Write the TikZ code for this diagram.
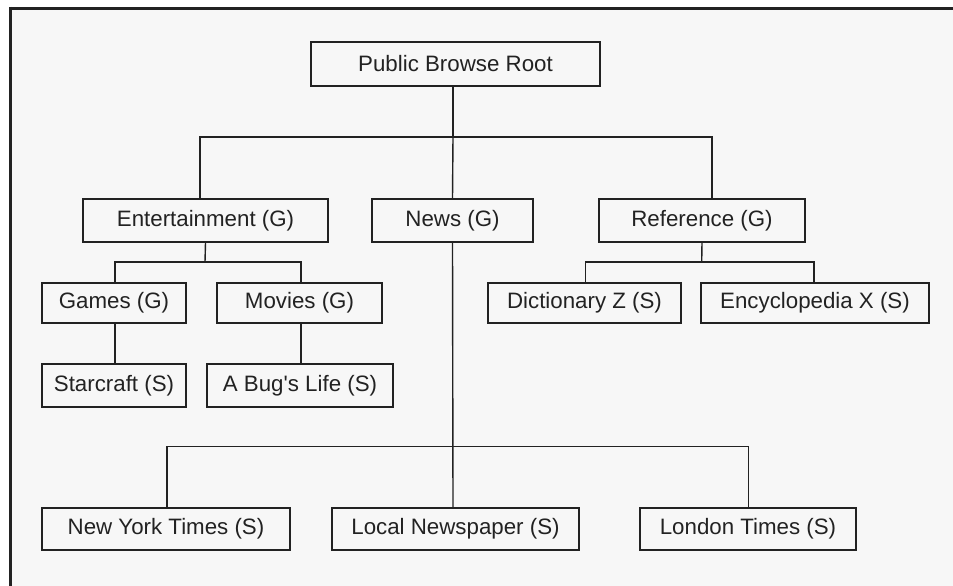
\documentclass[tikz,border=0pt]{standalone}
\usepackage{fontspec}
\setmainfont{Liberation Sans}[Ligatures=TeXOff]
\definecolor{bg}{HTML}{F7F7F7}
\definecolor{ink}{HTML}{222222}
\begin{document}
\begin{tikzpicture}[x=1pt,y=-1pt,
  box/.style={draw=ink,line width=1.4pt,fill=bg,inner sep=0pt,text=ink,font=\fontsize{22.3}{25}\selectfont},
  conn/.style={draw=ink,line width=1.4pt}]
\useasboundingbox (0,0) rectangle (953,586);
\fill[white] (0,0) rectangle (953,586);
\fill[bg] (9,7) rectangle (953,586);
\draw[ink,line width=2.6pt] (9,8.3) -- (953,8.3);
\draw[ink,line width=2.8pt] (10.5,7) -- (10.5,586);
% nodes
\node[box,minimum width=289,minimum height=44] (root) at (455.5,64) {Public Browse Root};
\node[box,minimum width=245,minimum height=43] (ent) at (205.5,220.5) {Entertainment (G)};
\node[box,minimum width=161,minimum height=43] (news) at (452.5,220.5) {News (G)};
\node[box,minimum width=206,minimum height=43] (ref) at (702,220.5) {Reference (G)};
\node[box,minimum width=144,minimum height=40] (games) at (114,303) {Games (G)};
\node[box,minimum width=165,minimum height=40] (movies) at (299.5,303) {Movies (G)};
\node[box,minimum width=144,minimum height=43] (star) at (114,385.5) {Starcraft (S)};
\node[box,minimum width=186,minimum height=43] (bug) at (300,385.5) {A Bug's Life (S)};
\node[box,minimum width=193,minimum height=40] (dict) at (584.5,303) {Dictionary Z (S)};
\node[box,minimum width=228,minimum height=40] (ency) at (815,303) {Encyclopedia X (S)};
\node[box,minimum width=248,minimum height=42] (nyt) at (166,529) {New York Times (S)};
\node[box,minimum width=247,minimum height=42] (local) at (455.5,529) {Local Newspaper (S)};
\node[box,minimum width=216,minimum height=42] (london) at (748,529) {London Times (S)};
% connectors
\coordinate (rb) at (453,137);
\draw[conn] ([xshift=-2.5]root.south) -- (rb);
\draw[conn] ([xshift=-5.5]ent.north) |- (rb) -| ([xshift=10]ref.north);
\draw[conn] (rb) -- (news.north);
\coordinate (eb) at (205,262);
\draw[conn] (ent.south) -- (eb);
\draw[conn] ([xshift=1]games.north) |- (eb) -| ([xshift=1.5]movies.north);
\draw[conn] ([xshift=1]games.south) -- ([xshift=1]star.north);
\draw[conn] ([xshift=1.5]movies.south) -- ([xshift=1]bug.north);
\coordinate (fb) at (701.7,262);
\draw[conn] (ref.south) -- (fb);
\draw[conn] ([xshift=1]dict.north) |- (fb) -| ([xshift=-1]ency.north);
\coordinate (nb) at (453,446.7);
\draw[conn] (news.south) -- ([xshift=-2.5]local.north);
\draw[conn] ([xshift=1]nyt.north) |- (nb) -| ([xshift=0.3]london.north);
\end{tikzpicture}
\end{document}
